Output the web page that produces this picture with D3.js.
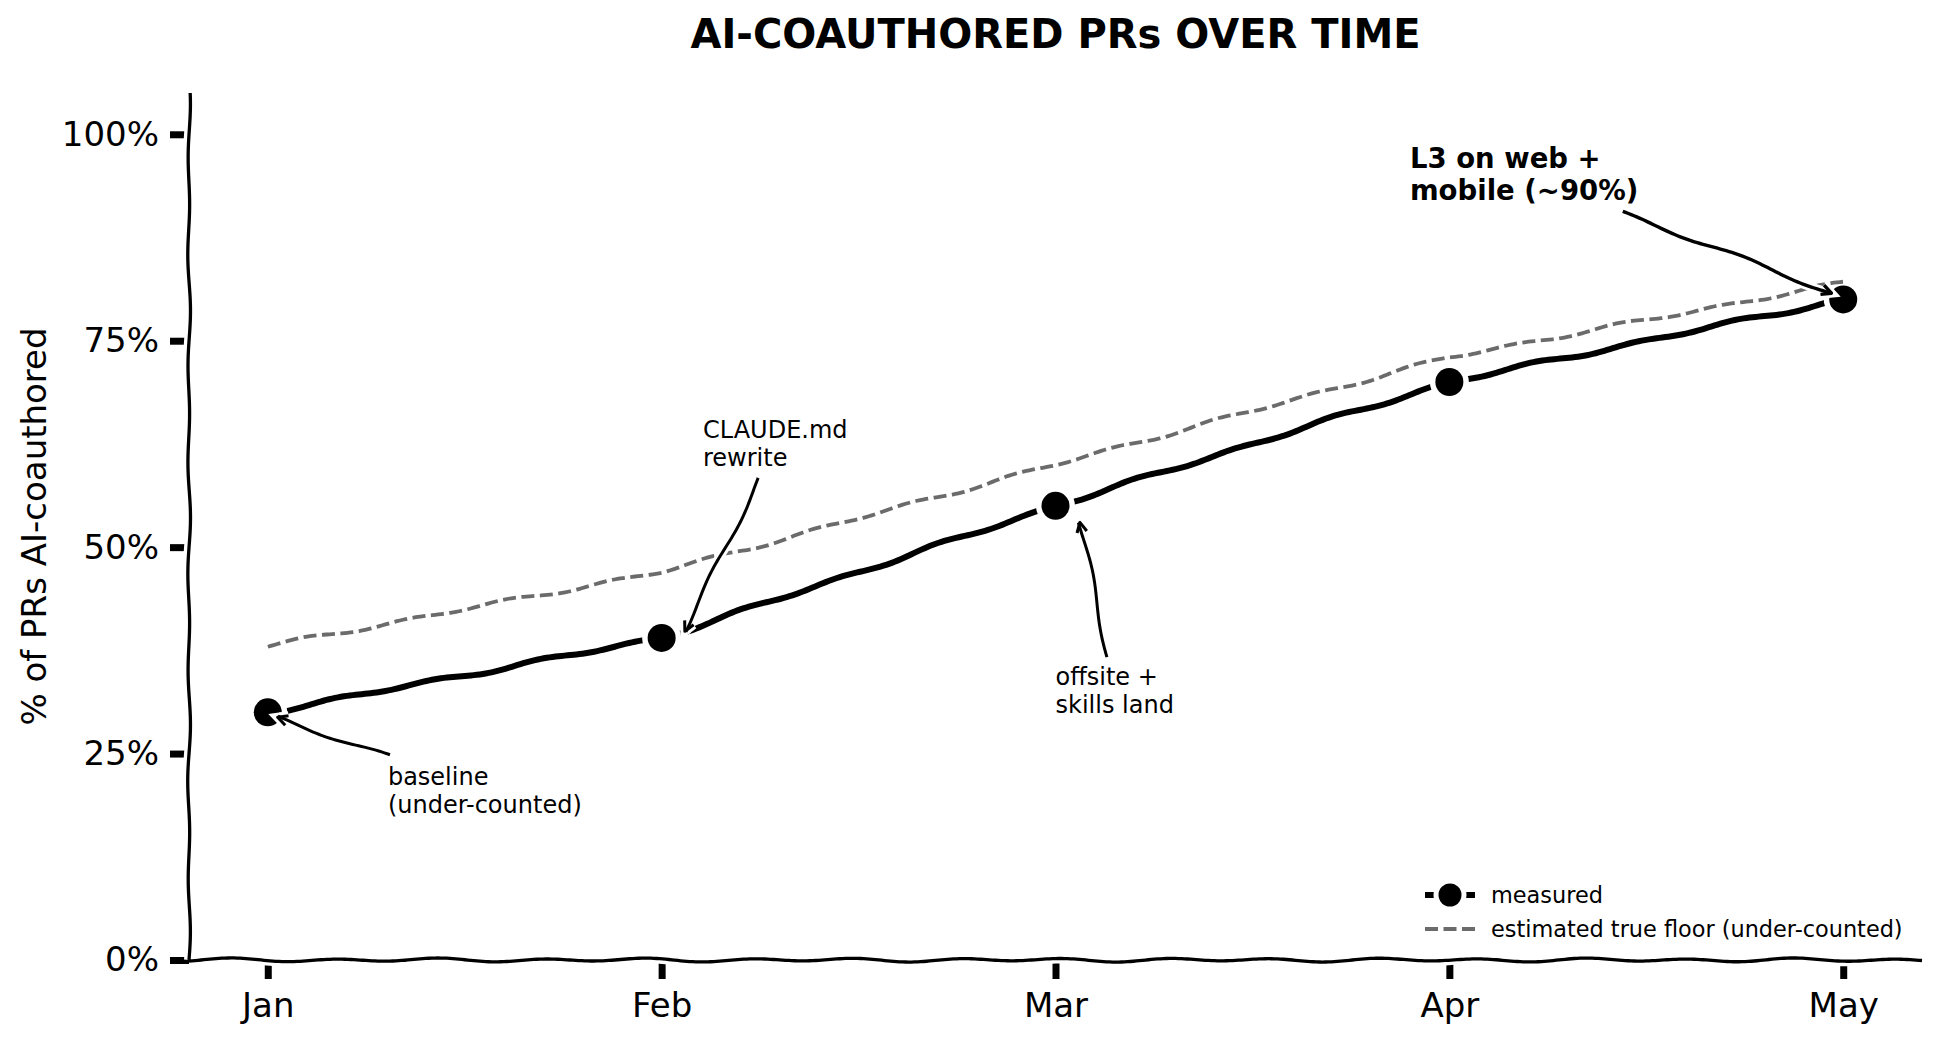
<!DOCTYPE html>
<html>
<head>
<meta charset="utf-8">
<script src="https://cdn.jsdelivr.net/npm/d3@7"></script>
<style>
  body { margin: 0; background: #fff; }
  svg { font-family: "DejaVu Sans", sans-serif; }
</style>
</head>
<body>
<svg width="1940" height="1042"></svg>
<script>
// data
let months = ["Jan", "Feb", "Mar", "Apr", "May"];
let measured = [30, 39, 55, 70, 80];
let trueFloor = [38, 47, 60, 73, 82];
let yTicks = [0, 25, 50, 75, 100];

// annotations: label lines, text anchor and arrow tip (in data units: month index, %)
let noteLabels = [
    ["baseline", "(under-counted)"],
    ["CLAUDE.md", "rewrite"],
    ["offsite +", "skills land"],
    ["L3 on web +", "mobile (~90%)"]
];
let noteTextAt = [[0.305, 21.2], [1.105, 63.2], [2.0, 33.3], [2.9, 95.9]];
let noteTipAt = [[0.025, 29.4], [1.059, 39.8], [2.062, 53.0], [3.97, 80.75]];

let seriesNames = ["measured", "estimated true floor (under-counted)"];

// hand drawn look: push points sideways along a slow wave
function wobble(pts, phase, amp = 2, wave = 104){
    let out = [], s = 0;
    for (let k = 0; k < pts.length - 1; k++){
        let [x0, y0] = pts[k], [x1, y1] = pts[k + 1];
        let len = Math.hypot(x1 - x0, y1 - y0);
        if (!len) continue;
        let n = Math.max(1, Math.ceil(len / 3));
        let nx = -(y1 - y0) / len, ny = (x1 - x0) / len;
        for (let j = (out.length ? 1 : 0); j <= n; j++){
            let t = j / n, ss = s + t * len;
            let off = amp * (0.8 * Math.sin(2 * Math.PI * ss / wave + phase)
                + 0.35 * Math.sin(2 * Math.PI * ss / (wave * 1.9) + phase * 1.7));
            out.push([x0 + (x1 - x0) * t + nx * off, y0 + (y1 - y0) * t + ny * off]);
        }
        s += len;
    }
    return d3.line()(out);
}

drawChart();

function drawChart(){
    let svg = d3.select("svg");

    let x = d3.scaleLinear().domain([-0.2, 4.2]).range([189, 1922]);
    let y = d3.scaleLinear().domain([0, 105]).range([960, 93]);

    // title
    svg.append("text")
        .attr("x", (x.range()[0] + x.range()[1]) / 2)
        .attr("y", 48)
        .attr("text-anchor", "middle")
        .attr("font-size", 40)
        .attr("font-weight", "bold")
        .text("AI-COAUTHORED PRs OVER TIME");

    // y label
    svg.append("text")
        .attr("transform", `translate(46,${(y.range()[0] + y.range()[1]) / 2}) rotate(-90)`)
        .attr("text-anchor", "middle")
        .attr("font-size", 34)
        .text("% of PRs AI-coauthored");

    // axes (ticks + labels), spines drawn separately so they can wobble
    let yAxis = svg.append("g")
        .attr("transform", `translate(${x.range()[0]},0)`)
        .call(d3.axisLeft(y).tickValues(yTicks).tickFormat(d => d + "%").tickSize(19).tickPadding(11));
    let xAxis = svg.append("g")
        .attr("transform", `translate(0,${y.range()[0]})`)
        .call(d3.axisBottom(x).tickValues(d3.range(months.length)).tickFormat(i => months[i]).tickSize(19).tickPadding(14));

    [yAxis, xAxis].forEach(function(ax){
        ax.select(".domain").remove();
        ax.attr("font-size", 34).attr("font-family", "DejaVu Sans");
        ax.selectAll(".tick line").attr("stroke", "#000").attr("stroke-width", 7);
        ax.selectAll(".tick text").attr("fill", "#000");
    });

    let spines = svg.append("g");
    let spineData = [
        [[x.range()[0], y.range()[0]], [x.range()[0], y.range()[1]]],
        [[x.range()[0], y.range()[0]], [x.range()[1], y.range()[0]]]
    ];
    let spineAmp = [1.3, 1.8];
    spines.selectAll("path.halo")
        .data(spineData)
        .join("path")
        .attr("class", "halo")
        .attr("d", (d, i) => wobble(d, i * 2.1, spineAmp[i]))
        .attr("fill", "none")
        .attr("stroke", "#fff")
        .attr("stroke-width", 10);
    spines.selectAll("path.spine")
        .data(spineData)
        .join("path")
        .attr("class", "spine")
        .attr("d", (d, i) => wobble(d, i * 2.1, spineAmp[i]))
        .attr("fill", "none")
        .attr("stroke", "#000")
        .attr("stroke-width", 3.3);

    let toPx = vals => vals.map((d, i) => [x(i), y(d)]);

    let plot = svg.append("g");

    // measured line with white halo
    plot.append("path")
        .attr("d", wobble(toPx(measured), 0.6))
        .attr("fill", "none")
        .attr("stroke", "#fff")
        .attr("stroke-width", 11);
    plot.append("path")
        .attr("d", wobble(toPx(measured), 0.6))
        .attr("fill", "none")
        .attr("stroke", "#000")
        .attr("stroke-width", 6)
        .attr("stroke-linejoin", "round");

    plot.selectAll("circle.halo")
        .data(measured)
        .join("circle")
        .attr("class", "halo")
        .attr("cx", (d, i) => x(i))
        .attr("cy", d => y(d))
        .attr("r", 19.5)
        .attr("fill", "#fff");
    plot.selectAll("circle.dot")
        .data(measured)
        .join("circle")
        .attr("class", "dot")
        .attr("cx", (d, i) => x(i))
        .attr("cy", d => y(d))
        .attr("r", 14)
        .attr("fill", "#000");

    // estimated floor, dashed grey
    plot.append("path")
        .attr("d", wobble(toPx(trueFloor), 2.4))
        .attr("fill", "none")
        .attr("stroke", "#6b6b6b")
        .attr("stroke-width", 3.8)
        .attr("stroke-dasharray", "13,5.5");

    // annotations
    let arrows = svg.append("g");
    let notes = svg.append("g");

    noteLabels.forEach(function(lines, i){
        let bold = i === noteLabels.length - 1;
        let fs = bold ? 27.5 : 24;
        let t = notes.append("text")
            .attr("x", x(noteTextAt[i][0]))
            .attr("y", y(noteTextAt[i][1]))
            .attr("font-size", fs)
            .attr("font-weight", bold ? "bold" : "normal");
        t.selectAll("tspan")
            .data(lines)
            .join("tspan")
            .attr("x", x(noteTextAt[i][0]))
            .attr("dy", (d, j) => j === 0 ? 0 : fs * 1.17)
            .text(d => d);

        let b = t.node().getBBox(), pad = 6;
        let bx0 = b.x - pad, bx1 = b.x + b.width + pad,
            by0 = b.y - pad, by1 = b.y + b.height + pad;
        let cx = (bx0 + bx1) / 2, cy = (by0 + by1) / 2;
        let tipX = x(noteTipAt[i][0]), tipY = y(noteTipAt[i][1]);
        let dx = tipX - cx, dy = tipY - cy;
        let tx = dx > 0 ? (bx1 - cx) / dx : (bx0 - cx) / dx;
        let ty = dy > 0 ? (by1 - cy) / dy : (by0 - cy) / dy;
        let k = Math.min(tx, ty);
        let sx = cx + dx * k, sy = cy + dy * k;

        // open arrow head "->"
        let ang = Math.atan2(tipY - sy, tipX - sx), hl = 11, ha = 0.47;
        let head = [
            [tipX - hl * Math.cos(ang - ha), tipY - hl * Math.sin(ang - ha)],
            [tipX, tipY],
            [tipX - hl * Math.cos(ang + ha), tipY - hl * Math.sin(ang + ha)]
        ];
        let shaft = wobble([[sx, sy], [tipX, tipY]], 1.3 + i, 2.2, 120);
        let headPath = d3.line()(head);
        let lw = bold ? 3.4 : 3;

        [shaft, headPath].forEach(function(p){
            arrows.append("path")
                .attr("d", p)
                .attr("fill", "none")
                .attr("stroke", "#fff")
                .attr("stroke-width", 9);
        });
        [shaft, headPath].forEach(function(p){
            arrows.append("path")
                .attr("d", p)
                .attr("fill", "none")
                .attr("stroke", "#000")
                .attr("stroke-width", lw)
                .attr("stroke-linejoin", "round");
        });
    });

    // legend
    let legend = svg.append("g").attr("transform", "translate(1425,0)");
    let rowY = [895, 929];

    legend.append("line")
        .attr("x1", 0).attr("x2", 50)
        .attr("y1", rowY[0]).attr("y2", rowY[0])
        .attr("stroke", "#000")
        .attr("stroke-width", 6);
    legend.append("circle")
        .attr("cx", 25).attr("cy", rowY[0])
        .attr("r", 16.5)
        .attr("fill", "#fff");
    legend.append("circle")
        .attr("cx", 25).attr("cy", rowY[0])
        .attr("r", 11.5)
        .attr("fill", "#000");
    legend.append("line")
        .attr("x1", 0).attr("x2", 50)
        .attr("y1", rowY[1]).attr("y2", rowY[1])
        .attr("stroke", "#6b6b6b")
        .attr("stroke-width", 3.8)
        .attr("stroke-dasharray", "13,5.5");

    legend.selectAll("text")
        .data(seriesNames)
        .join("text")
        .attr("x", 66)
        .attr("y", (d, i) => rowY[i] + 8)
        .attr("font-size", 22.4)
        .text(d => d);
}
</script>
</body>
</html>
